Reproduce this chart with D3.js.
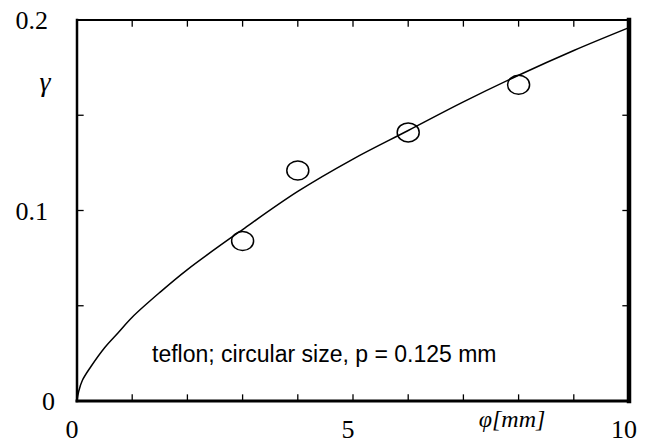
<!DOCTYPE html>
<html>
<head>
<meta charset="utf-8">
<script src="https://cdn.jsdelivr.net/npm/d3@7"></script>
<style>
  body { margin: 0; background: #fff; }
  svg { display: block; }
  text.serif { font-family: "Liberation Serif", "Times New Roman", Times, "DejaVu Serif", serif; }
  text.sans { font-family: "Liberation Sans", Arial, Helvetica, sans-serif; }
</style>
</head>
<body>
<div id="chart"></div>
<script>
const width = 652
const height = 448
const margins = ({ top: 20, right: 23, bottom: 47, left: 77 })

// measured points (phi in mm, gamma)
const pointX = [3, 4, 6, 8]
const pointY = [0.084, 0.121, 0.141, 0.166]

// fitted curve
const curveX = [0, 0.03, 0.1, 0.25, 0.5, 0.75, 1, 1.5, 2, 3, 4, 5, 6, 7, 8, 9, 10]
const curveY = [0, 0.005, 0.011, 0.018, 0.028, 0.036, 0.044, 0.057, 0.069, 0.090, 0.110, 0.127, 0.142, 0.157, 0.171, 0.184, 0.196]

const xTicks = [1, 2, 3, 4, 5, 6, 7, 8, 9]
const xLabels = [0, 5, 10]
const yTicks = [0.05, 0.1, 0.15]
const yLabels = [0, 0.1, 0.2]

const svg = d3.select("#chart")
    .append("svg")
    .attr("width", width)
    .attr("height", height)

const x = d3.scaleLinear().domain([0, 10]).range([margins.left, width - margins.right])
const y = d3.scaleLinear().domain([0, 0.2]).range([height - margins.bottom, margins.top])

const x0 = x(0), x1 = x(10), y0 = y(0), y1 = y(0.2)

// frame, heavier on bottom and right
function edge(xa, ya, xb, yb, w) {
    svg.append("line")
        .attr("x1", xa).attr("y1", ya).attr("x2", xb).attr("y2", yb)
        .attr("stroke", "#000").attr("stroke-width", w)
        .attr("stroke-linecap", "square")
}
edge(x0, y1, x1, y1, 2)
edge(x0, y1, x0, y0, 2.5)
edge(x0, y0, x1, y0, 3)
edge(x1, y1, x1, y0, 4.5)

// inward ticks
const tickLen = 6
xTicks.forEach(d => {
    edge(x(d), y0, x(d), y0 - tickLen, 1.3)
    edge(x(d), y1, x(d), y1 + tickLen, 1.3)
})
yTicks.forEach(d => {
    edge(x0, y(d), x0 + tickLen, y(d), 1.3)
    edge(x1, y(d), x1 - tickLen, y(d), 1.3)
})

// tick labels
svg.selectAll(".ylab")
    .data(yLabels)
    .enter()
    .append("text")
    .attr("class", "serif")
    .attr("x", d => d == 0 ? 55 : 48)
    .attr("y", d => y(d) + 9)
    .attr("text-anchor", "end")
    .attr("font-size", 26)
    .text(d => d)

svg.selectAll(".xlab")
    .data(xLabels)
    .enter()
    .append("text")
    .attr("class", "serif")
    .attr("x", d => x(d) - 5)
    .attr("y", 438)
    .attr("text-anchor", "middle")
    .attr("font-size", 26)
    .text(d => d)

// axis titles
svg.append("text")
    .attr("class", "serif")
    .attr("x", 45)
    .attr("y", 91)
    .attr("text-anchor", "middle")
    .attr("font-size", 28)
    .attr("font-style", "italic")
    .text("γ")

svg.append("text")
    .attr("class", "serif")
    .attr("x", 512)
    .attr("y", 427)
    .attr("text-anchor", "middle")
    .attr("font-size", 24)
    .attr("font-style", "italic")
    .text("φ[mm]")

// fitted curve
const line = d3.line()
    .x(d => x(d[0]))
    .y(d => y(d[1]))
    .curve(d3.curveCatmullRom.alpha(0.5))

svg.append("path")
    .datum(curveX.map((d, i) => [d, curveY[i]]))
    .attr("d", line)
    .attr("fill", "none")
    .attr("stroke", "#000")
    .attr("stroke-width", 1.5)

// data points
svg.selectAll(".pt")
    .data(pointX.map((d, i) => [d, pointY[i]]))
    .enter()
    .append("ellipse")
    .attr("cx", d => x(d[0]))
    .attr("cy", d => y(d[1]))
    .attr("rx", 11)
    .attr("ry", 9.5)
    .attr("fill", "none")
    .attr("stroke", "#000")
    .attr("stroke-width", 1.5)

// note
svg.append("text")
    .attr("class", "sans")
    .attr("x", 152)
    .attr("y", 362)
    .attr("font-size", 23)
    .text("teflon; circular size, p = 0.125 mm")
</script>
</body>
</html>
